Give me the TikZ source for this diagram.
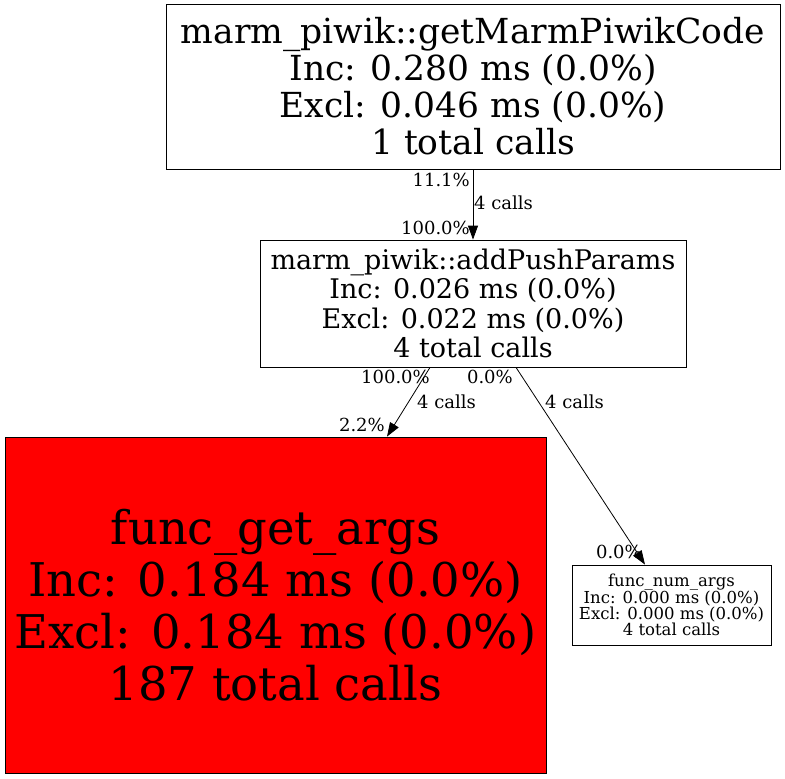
\documentclass[tikz,border=0pt]{standalone}
\usepackage{fontspec}
\setmainfont{DejaVu Serif}
\usetikzlibrary{arrows.meta,calc}
\tikzset{
  fn/.style={draw=black, line width=0.8pt, inner sep=0pt, align=center},
  elab/.style={font=\fontsize{18}{20}\selectfont, inner sep=0pt},
  edge/.style={draw=black, line width=0.8pt, -{Triangle[length=14pt,width=10pt]}}
}
\begin{document}
\begin{tikzpicture}[x=1pt,y=-1pt]
\useasboundingbox (0,0) rectangle (785,779);
\node[fn, minimum width=614pt, minimum height=165pt, font=\fontsize{34.5}{37}\selectfont] (A) at (473,86.5)
  {marm\_piwik::getMarmPiwikCode\\Inc: 0.280 ms (0.0\%)\\Excl: 0.046 ms (0.0\%)\\1 total calls};
\node[fn, minimum width=426pt, minimum height=127pt, font=\fontsize{27}{29.5}\selectfont] (B) at (473,303.5)
  {marm\_piwik::addPushParams\\Inc: 0.026 ms (0.0\%)\\Excl: 0.022 ms (0.0\%)\\4 total calls};
\node[fn, fill=red, minimum width=541pt, minimum height=336pt, font=\fontsize{46.5}{52}\selectfont] (C) at (275.5,605)
  {func\_get\_args\\Inc: 0.184 ms (0.0\%)\\Excl: 0.184 ms (0.0\%)\\187 total calls};
\node[fn, minimum width=199pt, minimum height=80pt, font=\fontsize{16.5}{16}\selectfont] (D) at (671.5,605)
  {func\_num\_args\\Inc: 0.000 ms (0.0\%)\\Excl: 0.000 ms (0.0\%)\\4 total calls};
\draw[edge] (A.south) -- (B.north);
\draw[edge] ([xshift=-43pt]B.south) -- ([xshift=111.5pt]C.north);
\draw[edge] ([xshift=43pt]B.south) -- ([xshift=-26.5pt]D.north);
\node[elab, anchor=east] (l1) at (470,180) {11.1\%};
\node[elab, anchor=west] (l2) at (474,203) {4 calls};
\node[elab, anchor=east] (l3) at (470,228) {100.0\%};
\node[elab, anchor=east] (l4) at (430,377) {100.0\%};
\node[elab, anchor=west] (l5) at (417,402) {4 calls};
\node[elab, anchor=east] (l6) at (385,425) {2.2\%};
\node[elab, anchor=east] (l7) at (513,377) {0.0\%};
\node[elab, anchor=west] (l8) at (545,402) {4 calls};
\node[elab, anchor=east] (l9) at (642,552) {0.0\%};
\end{tikzpicture}
\end{document}
